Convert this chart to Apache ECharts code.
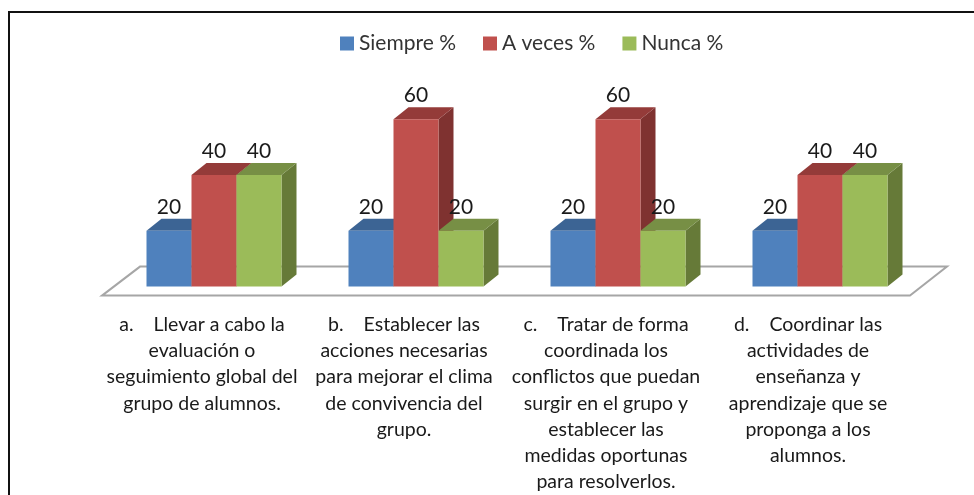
<!DOCTYPE html>
<html><head><meta charset="utf-8">
<style>html,body{margin:0;padding:0;background:#fff}#c{width:974px;height:495px}</style>
<script src="https://cdn.jsdelivr.net/npm/echarts@6/dist/echarts.min.js"></script>
</head><body><div id="c"></div>
<script>
var categories = [
 "a.    Llevar a cabo la\nevaluación o\nseguimiento global del\ngrupo de alumnos.",
 "b.    Establecer las\nacciones necesarias\npara mejorar el clima\nde convivencia del\ngrupo.",
 "c.    Tratar de forma\ncoordinada los\nconflictos que puedan\nsurgir en el grupo y\nestablecer las\nmedidas oportunas\npara resolverlos.",
 "d.    Coordinar las\nactividades de\nenseñanza y\naprendizaje que se\nproponga a los\nalumnos."
];
var siempre = [20,20,20,20];
var aVeces = [40,60,60,40];
var nunca = [40,20,20,40];
var FONT = 'Lato';
var DX = 15, DY = -12, BAR = 45, SPACING = 202;

function bar3d(offsetIndex, front, top, side){
  return function(params, api){
    var base = api.coord([api.value(0), 0]);
    var head = api.coord([api.value(0), api.value(1)]);
    var cx = base[0] + offsetIndex*BAR;
    var x0 = cx - BAR/2, x1 = cx + BAR/2, y0 = base[1], y1 = head[1];
    return {type:'group', children:[
      {type:'polygon', shape:{points:[[x1,y0],[x1+DX,y0+DY],[x1+DX,y1+DY],[x1,y1]]}, style:{fill:side}},
      {type:'polygon', shape:{points:[[x0,y1],[x0+DX,y1+DY],[x1+DX,y1+DY],[x1,y1]]}, style:{fill:top}},
      {type:'rect', shape:{x:x0,y:y1,width:BAR,height:y0-y1}, style:{fill:front}},
      {type:'text', z2:100, style:{x:cx, y:y1-24, text:String(api.value(1)), fill:'#1a1a1a',
        font:'21px '+FONT, align:'center', verticalAlign:'middle'}}
    ]};
  };
}
function floor(params, api){
  if(params.dataIndex!==0) return;
  var a = api.coord([0,0]), b = api.coord([categories.length-1,0]);
  var l = a[0]-SPACING/2, r = b[0]+SPACING/2, y = a[1];
  return {type:'polygon', silent:true, shape:{points:[[l-11,y+9],[l+27,y-20],[r+26,y-20],[r-11,y+9]]},
    style:{fill:'#fff', stroke:'#a6a6a6', lineWidth:2}};
}
function mk(name, data, idx, c, t, s){
  return {name:name, type:'custom', xAxisIndex:0, yAxisIndex:0, itemStyle:{color:c},
    renderItem:bar3d(idx,c,t,s), data:data.map(function(v,i){return [i,v];}), encode:{x:0,y:1}, animation:false, clip:false};
}
var chart = echarts.init(document.getElementById('c'), null, {renderer:'canvas'});
chart.setOption({
  animation:false, backgroundColor:'#fff',
  graphic:[{type:'polyline', silent:true, shape:{points:[[9,495],[9,12],[974,12]]}, style:{fill:null, stroke:'#111', lineWidth:2}}],
  legend:{data:['Siempre %','A veces %','Nunca %'], top:28, left:335, icon:'rect', itemWidth:14, itemHeight:14, itemGap:27,
    textStyle:{fontFamily:FONT, fontSize:21, color:'#333'}},
  grid:{left:113, right:53, top:91.5, bottom:207.5},
  xAxis:{type:'category', data:categories, axisLine:{show:false}, axisTick:{show:false},
    axisLabel:{interval:0, margin:25, color:'#1a1a1a', fontFamily:FONT, fontSize:19.5, lineHeight:26.2, align:'center', verticalAlign:'top', padding:[0,24,0,0]}},
  yAxis:{type:'value', min:0, max:70, show:false},
  series:[
    {name:'floor', type:'custom', renderItem:floor, data:[[0,0]], encode:{x:0,y:1}, silent:true, clip:false, z:1},
    mk('Siempre %', siempre, -1, '#4F81BD', '#3C6494', '#2F4F75'),
    mk('A veces %', aVeces, 0, '#C0504D', '#943B39', '#7F3230'),
    mk('Nunca %', nunca, 1, '#9BBB59', '#778F45', '#667A38')
  ]
});
</script></body></html>
